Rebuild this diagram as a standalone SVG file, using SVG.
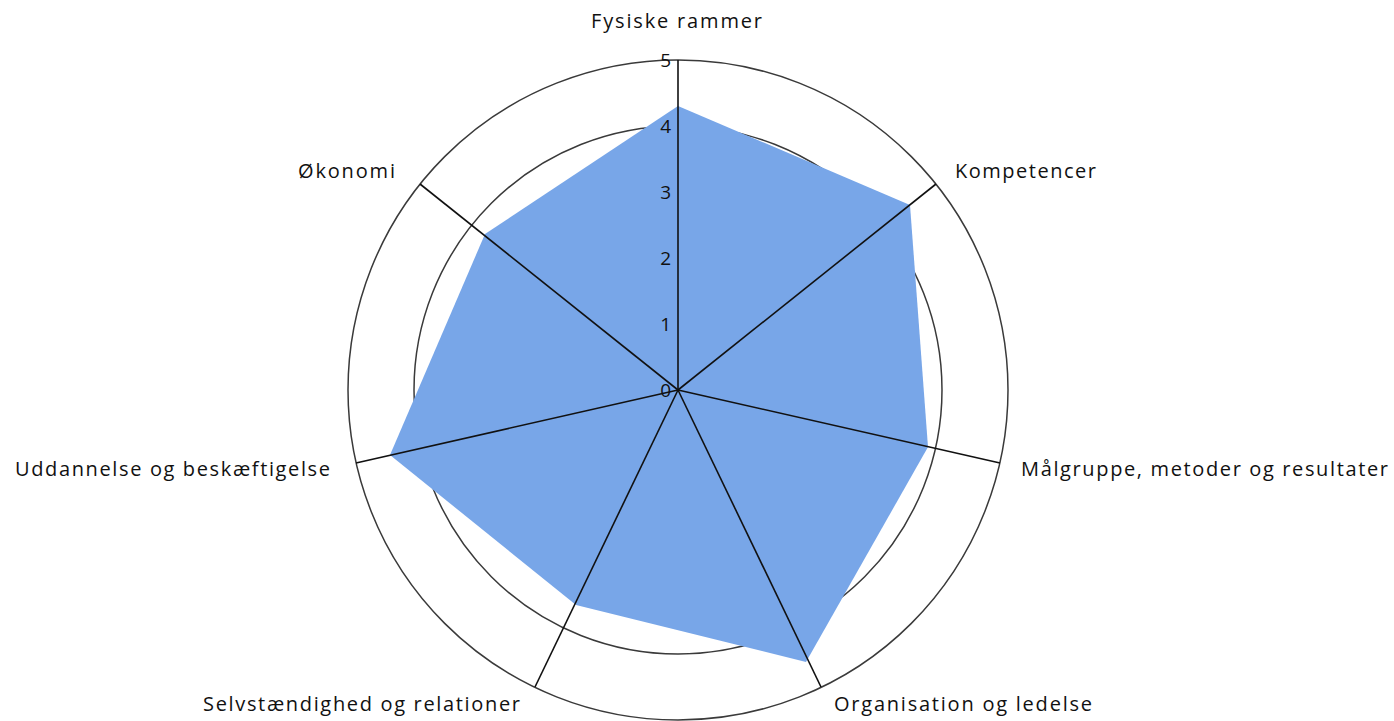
<svg xmlns="http://www.w3.org/2000/svg" width="1394" height="721" viewBox="0 0 1394 721">
<style>
.grid{fill:none;stroke:#3a3a3a;stroke-width:1.5}
.axis{stroke:#111;stroke-width:1.6}
.lbl{font-family:"Open Sans","Liberation Sans",sans-serif;font-size:20px;fill:#111}
.tick{font-family:"Open Sans","Liberation Sans",sans-serif;font-size:19px;fill:#111;text-anchor:end}
</style>
<rect width="1394" height="721" fill="#fff"/>
<g id="gridlines">
<circle class="grid" cx="678" cy="390" r="66"/>
<circle class="grid" cx="678" cy="390" r="132"/>
<circle class="grid" cx="678" cy="390" r="198"/>
<circle class="grid" cx="678" cy="390" r="264"/>
<circle class="grid" cx="678" cy="390" r="330"/>
</g>
<g id="series">
<polygon points="678,106 910,205 928,447 806,662 576,605 390,455 485,234" fill="#78a6e8"/>
</g>
<g id="connectors">
<line class="axis" x1="678" y1="390" x2="678" y2="60"/>
<line class="axis" x1="678" y1="390" x2="936" y2="184"/>
<line class="axis" x1="678" y1="390" x2="1000" y2="463"/>
<line class="axis" x1="678" y1="390" x2="821" y2="687"/>
<line class="axis" x1="678" y1="390" x2="535" y2="687"/>
<line class="axis" x1="678" y1="390" x2="356" y2="463"/>
<line class="axis" x1="678" y1="390" x2="420" y2="184"/>
</g>
<g id="ticks">
<text class="tick" x="671" y="67">5</text>
<text class="tick" x="671" y="133">4</text>
<text class="tick" x="671" y="199">3</text>
<text class="tick" x="671" y="265">2</text>
<text class="tick" x="671" y="331">1</text>
<text class="tick" x="671" y="397">0</text>
</g>
<g id="node-fysiske"><text class="lbl" x="591" y="28" textLength="171">Fysiske rammer</text></g>
<g id="node-kompetencer"><text class="lbl" x="955" y="178" textLength="141">Kompetencer</text></g>
<g id="node-maalgruppe"><text class="lbl" x="1021" y="476" textLength="367">Målgruppe, metoder og resultater</text></g>
<g id="node-organisation"><text class="lbl" x="834" y="711" textLength="258">Organisation og ledelse</text></g>
<g id="node-selvstaendighed"><text class="lbl" x="203" y="711" textLength="317">Selvstændighed og relationer</text></g>
<g id="node-uddannelse"><text class="lbl" x="15" y="476" textLength="315">Uddannelse og beskæftigelse</text></g>
<g id="node-oekonomi"><text class="lbl" x="298" y="178" textLength="97">Økonomi</text></g>
</svg>
